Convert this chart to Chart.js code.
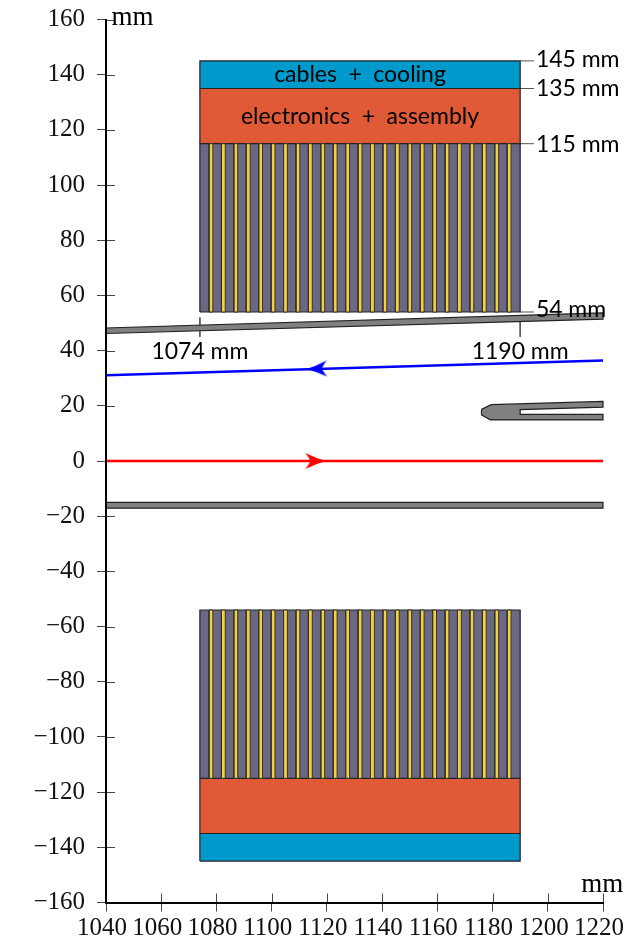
<!DOCTYPE html>
<html><head><meta charset="utf-8">
<script src="https://cdn.jsdelivr.net/npm/chart.js@4"></script>
<style>html,body{margin:0;padding:0;background:#fff}canvas{display:block}</style>
</head><body><canvas id="c" width="639" height="943"></canvas>
<script>
const moduleX = [1074, 1190];
const layerCables = [135, 145];
const layerElectronics = [115, 135];
const layerSensor = [54, 115];
const stripCentres = [1078,1082.5,1087,1091.5,1096,1100.5,1105,1109.5,1114,1118.5,1123,1127.5,1132,1136.5,1141,1145.5,1150,1154.5,1159,1163.5,1168,1172.5,1177,1181.5,1186];
const upperPipe = [[1040,46.2],[1040,48.2],[1220,53.7],[1220,51.4]];
const lowerPipe = [[1040,-17.1],[1040,-15],[1220,-15],[1220,-17.1]];
const fork = [[1176,18.7],[1176,16.7],[1179.2,14.9],[1220,14.9],[1220,16.9],[1190,16.9],[1190,18.6],[1220,19.5],[1220,21.6],[1179.5,20.4]];
const blueTrack = [[1040,31.1],[1220,36.4]];
const redTrack = [[1040,0],[1220,0]];
const blueArrow = [1116.4,33.4];
const redArrow = [1115.8,0];
const callouts = [[1190,145,1195,145],[1190,135,1195,135],[1190,115,1195,115],[1190,54,1195,54],[1074,52,1074,45],[1190,52,1190,45]];
const sansLabels = [
 ['cables\u2002+\u2002cooling',1132,140,'center'],
 ['electronics\u2002+\u2002assembly',1132,125,'center'],
 ['145\u2005mm',1195.7,145.5,'left'],
 ['135\u2005mm',1195.7,135,'left'],
 ['115\u2005mm',1195.7,114.5,'left'],
 ['54\u2005mm',1195.7,55,'left'],
 ['1074\u2005mm',1074,39.5,'center'],
 ['1190\u2005mm',1190,39.5,'center']
];
const serifLabels = [['mm',1042,160.5,'left'],['mm',1227.3,-153.5,'right']];

const C = {cables:'#0099cc',elec:'#e05a38',sensor:'#6b6884',strip:'#f2d13c',steel:'#808080',edge:'#222'};
const pts = a => a.map(p=>({x:p[0],y:p[1]}));
const closed = a => pts(a.concat([a[0]]));
const rect = (x0,x1,y0,y1) => closed([[x0,y0],[x1,y0],[x1,y1],[x0,y1]]);
const shape = (data,fill,order,bw=1.2,edge=C.edge) => ({type:'line',data,order,borderColor:edge,borderWidth:bw,backgroundColor:fill,fill:'shape',pointRadius:0,tension:0,clip:false,borderJoinStyle:'miter'});
function arrow(color){
  const c=document.createElement('canvas');c.width=24;c.height=18;const g=c.getContext('2d');
  g.fillStyle=color;g.beginPath();g.moveTo(23,9);g.quadraticCurveTo(13,6.5,2,1);g.quadraticCurveTo(6,6,7,9);g.quadraticCurveTo(6,12,2,17);g.quadraticCurveTo(13,11.5,23,9);g.closePath();g.fill();
  return c;
}
const datasets=[];
stripCentres.forEach(s=>datasets.push(shape(rect(s-.7,s+.7,layerSensor[0],layerSensor[1]),C.strip,1,1,'#333')));
stripCentres.forEach(s=>datasets.push(shape(rect(s-.7,s+.7,-layerSensor[1],-layerSensor[0]),C.strip,1,1,'#333')));
datasets.push(shape(rect(moduleX[0],moduleX[1],layerSensor[0],layerSensor[1]),C.sensor,2));
datasets.push(shape(rect(moduleX[0],moduleX[1],-layerSensor[1],-layerSensor[0]),C.sensor,2));
datasets.push(shape(rect(moduleX[0],moduleX[1],layerElectronics[0],layerElectronics[1]),C.elec,2));
datasets.push(shape(rect(moduleX[0],moduleX[1],-layerElectronics[1],-layerElectronics[0]),C.elec,2));
datasets.push(shape(rect(moduleX[0],moduleX[1],layerCables[0],layerCables[1]),C.cables,2));
datasets.push(shape(rect(moduleX[0],moduleX[1],-layerCables[1],-layerCables[0]),C.cables,2));
datasets.push(shape(closed(upperPipe),C.steel,3));
datasets.push(shape(closed(lowerPipe),C.steel,3));
datasets.push(shape(closed(fork),C.steel,3));
callouts.forEach(l=>datasets.push({type:'line',data:pts([[l[0],l[1]],[l[2],l[3]]]),order:4,borderColor:'#555',borderWidth:1,pointRadius:0,fill:false,clip:false}));
datasets.push({type:'line',data:pts(blueTrack),order:3,borderColor:'#0000ff',borderWidth:2.4,pointRadius:0,fill:false,clip:false});
datasets.push({type:'line',data:pts(redTrack),order:3,borderColor:'#ff0000',borderWidth:2.4,pointRadius:0,fill:false,clip:false});
datasets.push({type:'line',data:pts([blueArrow]),order:1,showLine:false,pointStyle:arrow('#0000ff'),pointRotation:178,pointRadius:9,clip:false});
datasets.push({type:'line',data:pts([redArrow]),order:1,showLine:false,pointStyle:arrow('#ff0000'),pointRotation:0,pointRadius:9,clip:false});

const SANS='23px Lato, "Open Sans", sans-serif', SERIF='27px "Liberation Serif", serif';
const decor={id:'decor',
 beforeDatasetsDraw(ch){
  const g=ch.ctx,{x,y}=ch.scales;g.save();g.strokeStyle='#444';g.lineWidth=1;g.beginPath();
  y.ticks.forEach(t=>{const p=Math.round(y.getPixelForValue(t.value))+.5;g.moveTo(x.left,p);g.lineTo(x.left+9,p)});
  x.ticks.forEach(t=>{const p=Math.round(x.getPixelForValue(t.value))+.5;g.moveTo(p,y.bottom);g.lineTo(p,y.bottom-9)});
  g.stroke();g.restore();
 },
 afterDatasetsDraw(ch){
  const g=ch.ctx,{x,y}=ch.scales;g.save();g.fillStyle='#000';g.textBaseline='middle';
  const put=(l,f)=>{g.font=f;g.textAlign=l[3];g.fillText(l[0],x.getPixelForValue(l[1]),y.getPixelForValue(l[2]))};
  sansLabels.forEach(l=>put(l,SANS));serifLabels.forEach(l=>put(l,SERIF));g.restore();
 }};
const tickFont={family:'"Liberation Serif", serif',size:25};
new Chart(document.getElementById('c'),{
 data:{datasets},
 plugins:[decor],
 options:{responsive:false,animation:false,
  layout:{autoPadding:false,padding:{top:19.5,right:36,left:0,bottom:0}},
  plugins:{legend:{display:false},tooltip:{enabled:false}},
  scales:{
   x:{type:'linear',min:1040,max:1220,
    afterFit(s){s.height=40.5},
    grid:{display:true,drawOnChartArea:false,drawTicks:true,tickLength:9,tickColor:'#444',z:1},
    border:{display:true,color:'#000',width:2,z:1},
    ticks:{stepSize:20,autoSkip:false,maxRotation:0,minRotation:0,color:'#111',font:tickFont,padding:2,labelOffset:-4,callback:v=>''+v}},
   y:{type:'linear',min:-160,max:160,
    afterFit(s){s.width=106;s.paddingTop=0;if(s._margins)s._margins.top=0},
    grid:{display:true,drawOnChartArea:false,drawTicks:true,tickLength:9,tickColor:'#444',z:1},
    border:{display:true,color:'#000',width:2,z:1},
    ticks:{stepSize:20,autoSkip:false,color:'#111',font:tickFont,padding:12,callback:v=>v<0?'\u2212'+Math.abs(v):''+v}}
  }}
});
</script></body></html>
